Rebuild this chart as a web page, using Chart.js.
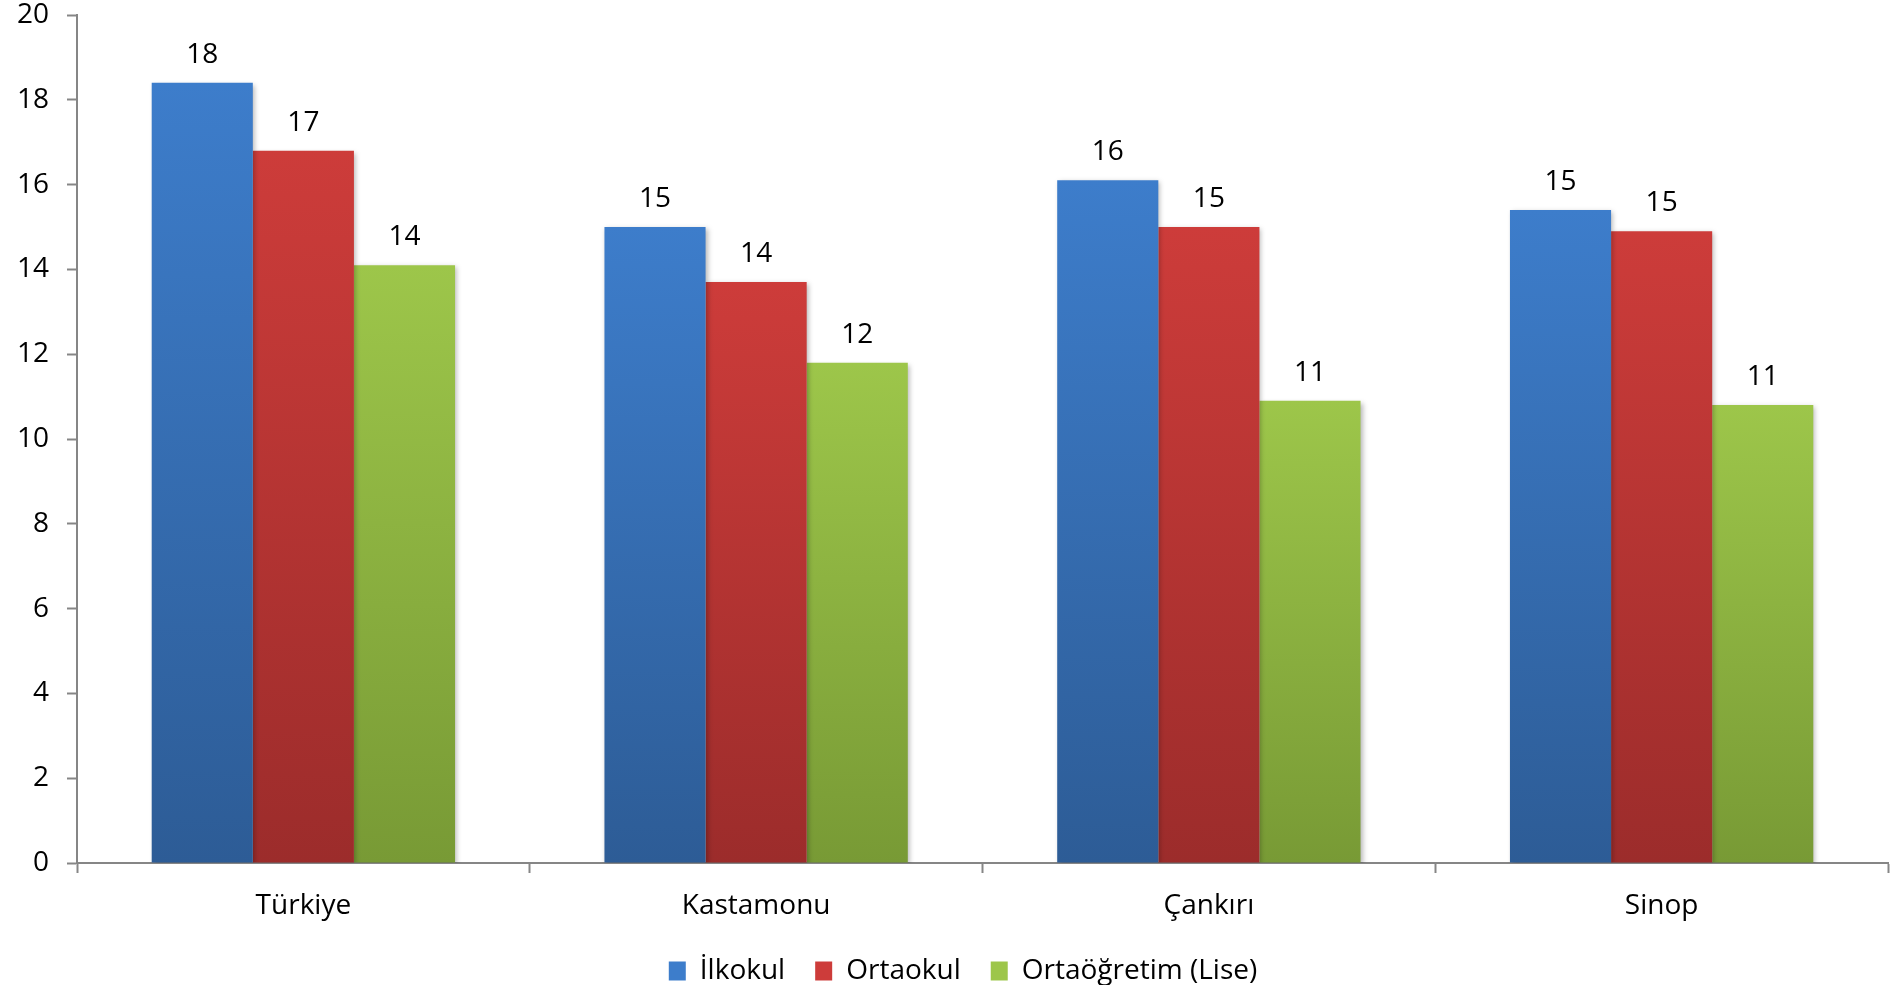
<!DOCTYPE html>
<html>
<head>
<meta charset="utf-8">
<script src="https://cdn.jsdelivr.net/npm/chart.js@4/dist/chart.umd.min.js"></script>
<style>
  html, body { margin: 0; padding: 0; background: #fff; }
  #wrap { width: 1892px; height: 985px; }
</style>
</head>
<body>
<div id="wrap"><canvas id="schoolChart"></canvas></div>
<script>
// Values
const regions = ['Türkiye', 'Kastamonu', 'Çankırı', 'Sinop'];
const ilkokul = [18.4, 15.0, 16.1, 15.4];
const ortaokul = [16.8, 13.7, 15.0, 14.9];
const lise = [14.1, 11.8, 10.9, 10.8];
const seriesNames = ['İlkokul', 'Ortaokul', 'Ortaöğretim (Lise)'];
const yTicks = [0, 2, 4, 6, 8, 10, 12, 14, 16, 18, 20];

// top / bottom colours of each bar gradient
const shades = [
  ['#3d7dcb', '#2d5c96'],
  ['#cd3c3a', '#9c2c2b'],
  ['#9dc64a', '#789a35']
];

const FONT = '"Open Sans", "Noto Sans", sans-serif';
const FSIZE = 28;
const axisGrey = '#868686';

function barGradient(ctx, i) {
  const chart = ctx.chart;
  const c = shades[i];
  if (!chart.chartArea || ctx.parsed === undefined) return c[0];
  const y = chart.scales.y;
  const top = y.getPixelForValue(ctx.parsed.y);
  const bottom = y.getPixelForValue(0);
  const g = chart.ctx.createLinearGradient(0, top, 0, bottom);
  g.addColorStop(0, c[0]);
  g.addColorStop(1, c[1]);
  return g;
}

// soft shadow behind bars
const barShadow = {
  id: 'barShadow',
  beforeDatasetsDraw(chart) {
    const ctx = chart.ctx;
    ctx.save();
    ctx.shadowColor = 'rgba(0,0,0,0.28)';
    ctx.shadowBlur = 5;
    ctx.shadowOffsetX = 2;
    ctx.shadowOffsetY = 2;
  },
  afterDatasetsDraw(chart) {
    chart.ctx.restore();
  }
};

// rounded value above every bar
const valueLabels = {
  id: 'valueLabels',
  afterDatasetsDraw(chart) {
    const ctx = chart.ctx;
    ctx.save();
    ctx.font = FSIZE + 'px ' + FONT;
    ctx.fillStyle = '#000';
    ctx.textAlign = 'center';
    ctx.textBaseline = 'bottom';
    chart.data.datasets.forEach((ds, i) => {
      chart.getDatasetMeta(i).data.forEach((bar, j) => {
        ctx.fillText(Math.round(ds.data[j]), bar.x, bar.y - 14);
      });
    });
    ctx.restore();
  }
};

// legend sits a little right of centre in the original
const legendNudge = {
  id: 'legendNudge',
  afterLayout(chart) {
    chart.legend.left += 19;
    chart.legend.right += 19;
  }
};

const datasets = [ilkokul, ortaokul, lise].map((vals, i) => ({
  label: seriesNames[i],
  data: vals,
  backgroundColor: ctx => barGradient(ctx, i),
  borderWidth: 0,
  categoryPercentage: 0.67,
  barPercentage: 1.0
}));

new Chart(document.getElementById('schoolChart'), {
  type: 'bar',
  data: { labels: regions, datasets: datasets },
  options: {
    responsive: true,
    maintainAspectRatio: false,
    animation: false,
    layout: { padding: { top: 15, right: 4, left: 0, bottom: -10 } },
    plugins: {
      tooltip: { enabled: false },
      legend: {
        position: 'bottom',
        labels: {
          font: { family: FONT, size: FSIZE },
          color: '#000',
          boxWidth: 17,
          boxHeight: 19,
          padding: 30,
          generateLabels(chart) {
            return seriesNames.map((name, i) => ({
              text: name,
              fillStyle: shades[i][0],
              strokeStyle: shades[i][0],
              lineWidth: 0,
              datasetIndex: i
            }));
          }
        }
      }
    },
    scales: {
      x: {
        grid: {
          offset: true,
          drawOnChartArea: false,
          drawTicks: true,
          tickLength: 10,
          tickWidth: 2,
          tickColor: axisGrey
        },
        border: { color: axisGrey, width: 2 },
        ticks: {
          font: { family: FONT, size: FSIZE },
          color: '#000',
          padding: 16
        },
        afterFit(scale) { scale.height = 64; }
      },
      y: {
        min: 0,
        max: 20,
        afterBuildTicks(scale) { scale.ticks = yTicks.map(v => ({ value: v })); },
        grid: {
          drawOnChartArea: false,
          drawTicks: true,
          tickLength: 10,
          tickWidth: 2,
          tickColor: axisGrey
        },
        border: { color: axisGrey, width: 2 },
        ticks: {
          font: { family: FONT, size: FSIZE },
          color: '#000',
          padding: 18
        },
        afterFit(scale) {
          scale.width = 77;
          scale.paddingTop = 0;
        }
      }
    }
  },
  plugins: [barShadow, valueLabels, legendNudge]
});
</script>
</body>
</html>
